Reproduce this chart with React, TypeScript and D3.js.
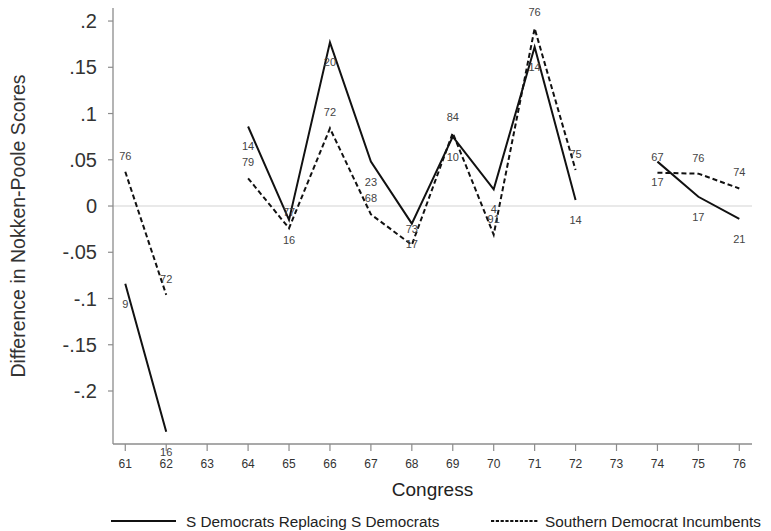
import React from "react";
import * as d3 from "d3";

// Congress sessions on the x axis (63 and 73 have no observations)
const congresses = [61, 62, 63, 64, 65, 66, 67, 68, 69, 70, 71, 72, 73, 74, 75, 76];

// S Democrats replacing S Democrats: mean difference and number of members
const replacingValues: (number | null)[] = [
  -0.084, -0.244, null, 0.086, -0.015, 0.177, 0.048, -0.019, 0.075, 0.018, 0.172, 0.0065, null, 0.048, 0.01, -0.014,
];
const replacingCounts: (number | null)[] = [9, 16, null, 14, 16, 20, 23, 17, 10, 4, 14, 14, null, 17, 17, 21];

// Southern Democrat incumbents: mean difference and number of members
const incumbentValues: (number | null)[] = [
  0.037, -0.096, null, 0.03, -0.024, 0.084, -0.009, -0.042, 0.079, -0.031, 0.192, 0.039, null, 0.036, 0.035, 0.019,
];
const incumbentCounts: (number | null)[] = [76, 72, null, 79, 77, 72, 68, 73, 84, 91, 76, 75, null, 67, 76, 74];

const yTicks = [-0.2, -0.15, -0.1, -0.05, 0, 0.05, 0.1, 0.15, 0.2];
const yTickLabels = ["-.2", "-.15", "-.1", "-.05", "0", ".05", ".1", ".15", ".2"];

const seriesNames = ["S Democrats Replacing S Democrats", "Southern Democrat Incumbents"];

const W = 771;
const H = 531;
const FONT = "'Liberation Sans', Arial, Helvetica, sans-serif";

const plot = { left: 113, right: 752, top: 8, bottom: 444 };

export default function App() {
  const x = d3.scaleLinear().domain([60.7, 76.31]).range([plot.left, plot.right]);
  const y = d3.scaleLinear().domain([-0.2573, 0.2141]).range([plot.bottom, plot.top]);

  type Pt = { c: number; v: number | null; n: number | null };
  const toPts = (vals: (number | null)[], counts: (number | null)[]): Pt[] =>
    congresses.map((c, i) => ({ c, v: vals[i], n: counts[i] }));

  const replacing = toPts(replacingValues, replacingCounts);
  const incumbents = toPts(incumbentValues, incumbentCounts);

  const line = d3
    .line<Pt>()
    .defined((d) => d.v !== null)
    .x((d) => x(d.c))
    .y((d) => y(d.v as number));

  const axisColor = "#8c8c8c";
  const textColor = "#333";

  return (
    <svg
      width={W}
      height={H}
      viewBox={`0 0 ${W} ${H}`}
      style={{ position: "absolute", left: 0, top: 0, background: "#fff" }}
      fontFamily={FONT}
    >
      <rect width={W} height={H} fill="#fff" />

      {/* zero reference line */}
      <line x1={plot.left} x2={plot.right} y1={y(0)} y2={y(0)} stroke="#e2e2e2" strokeWidth={1.6} />

      {/* y axis */}
      <line x1={plot.left} x2={plot.left} y1={plot.top} y2={plot.bottom} stroke={axisColor} strokeWidth={1.3} />
      {yTicks.map((t, i) => (
        <g key={t}>
          <line x1={plot.left - 5} x2={plot.left} y1={y(t)} y2={y(t)} stroke={axisColor} strokeWidth={1.2} />
          <text x={97} y={y(t)} dy="0.36em" textAnchor="end" fontSize={20} fill={textColor}>
            {yTickLabels[i]}
          </text>
        </g>
      ))}
      <text
        transform={`translate(25, ${(plot.top + plot.bottom) / 2}) rotate(-90)`}
        textAnchor="middle"
        fontSize={19.5}
        fill={textColor}
      >
        Difference in Nokken-Poole Scores
      </text>

      {/* x axis */}
      <line x1={plot.left} x2={plot.right} y1={plot.bottom} y2={plot.bottom} stroke={axisColor} strokeWidth={1.3} />
      {congresses.map((c) => (
        <g key={c}>
          <line x1={x(c)} x2={x(c)} y1={plot.bottom} y2={plot.bottom + 7} stroke={axisColor} strokeWidth={1.2} />
          <text x={x(c)} y={plot.bottom + 24} textAnchor="middle" fontSize={12} fill={textColor}>
            {c}
          </text>
        </g>
      ))}
      <text x={(plot.left + plot.right) / 2} y={496} textAnchor="middle" fontSize={19} fill="#222">
        Congress
      </text>

      {/* series lines */}
      <path d={line(replacing) ?? ""} fill="none" stroke="#111" strokeWidth={2} strokeLinejoin="miter" />
      <path d={line(incumbents) ?? ""} fill="none" stroke="#111" strokeWidth={2} strokeDasharray="5,3" />

      {/* member counts */}
      {replacing
        .filter((d) => d.v !== null)
        .map((d) => (
          <text key={`r${d.c}`} x={x(d.c)} y={y(d.v as number) + 24} textAnchor="middle" fontSize={11} fill="#444">
            {d.n}
          </text>
        ))}
      {incumbents
        .filter((d) => d.v !== null)
        .map((d) => (
          <text key={`i${d.c}`} x={x(d.c)} y={y(d.v as number) - 12} textAnchor="middle" fontSize={11} fill="#444">
            {d.n}
          </text>
        ))}

      {/* legend */}
      <line x1={111} x2={176} y1={521} y2={521} stroke="#111" strokeWidth={2} />
      <text x={186} y={527} fontSize={15.3} fill="#222">
        {seriesNames[0]}
      </text>
      <line x1={491} x2={539} y1={521} y2={521} stroke="#111" strokeWidth={1.8} strokeDasharray="3.2,1.6" />
      <text x={545} y={527} fontSize={15.3} fill="#222">
        {seriesNames[1]}
      </text>
    </svg>
  );
}
